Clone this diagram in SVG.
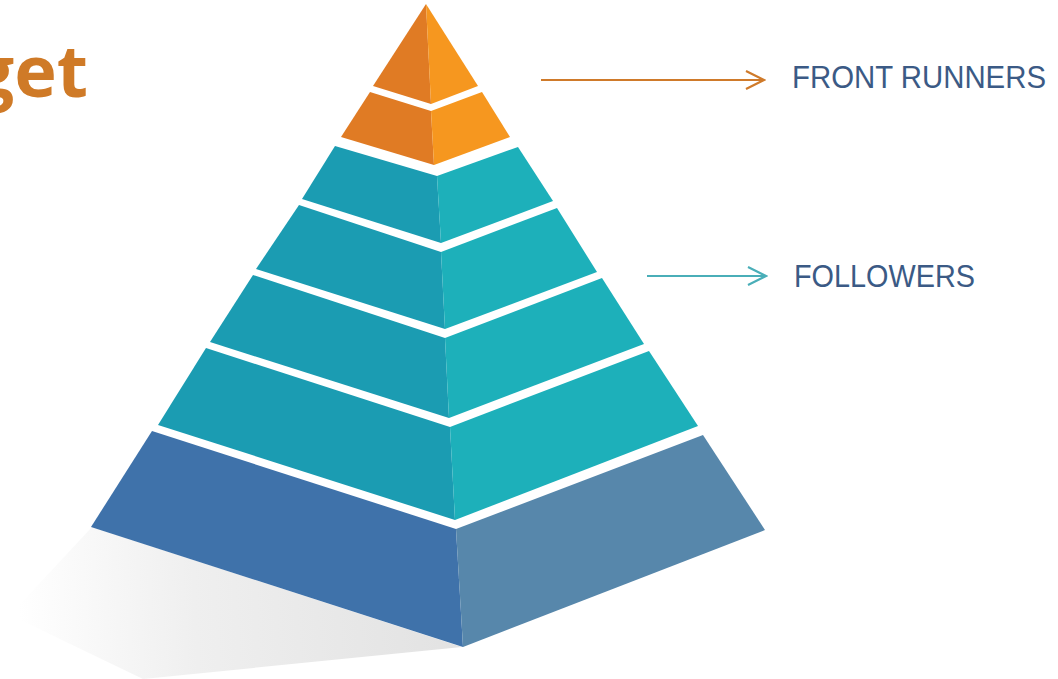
<svg xmlns="http://www.w3.org/2000/svg" width="1058" height="679" viewBox="0 0 1058 679">
  <defs>
    <linearGradient id="shadowGrad" x1="460" y1="620" x2="20" y2="640" gradientUnits="userSpaceOnUse">
      <stop offset="0" stop-color="#e2e2e2"/>
      <stop offset="0.6" stop-color="#efefef"/>
      <stop offset="1" stop-color="#ffffff"/>
    </linearGradient>
    <marker id="chevOrange" markerWidth="22" markerHeight="22" viewBox="-20 -11 22 22" refX="0" refY="0" orient="auto" markerUnits="userSpaceOnUse">
      <path d="M-18,-9 L0,0 L-18,9" fill="none" stroke="#CF7A2A" stroke-width="2.2"/>
    </marker>
    <marker id="chevTeal" markerWidth="22" markerHeight="22" viewBox="-20 -11 22 22" refX="0" refY="0" orient="auto" markerUnits="userSpaceOnUse">
      <path d="M-18,-9 L0,0 L-18,9" fill="none" stroke="#4AAEB8" stroke-width="2.2"/>
    </marker>
  </defs>
  <style>
    .orL { fill: #E07B24; }
    .orR { fill: #F6971F; }
    .tlL { fill: #1B9CB2; }
    .tlR { fill: #1DB0BA; }
    .blL { fill: #3F72AA; }
    .blR { fill: #5787AB; }
    .label { font-family: "Liberation Sans", Arial, sans-serif; fill: #3B5A85; }
    .title { font-family: "Open Sans", "Liberation Sans", sans-serif; font-weight: bold; fill: #CF7A27; }
  </style>
  <rect width="1058" height="679" fill="#ffffff"/>

  <g id="title">
    <text class="title" x="88" y="97" font-size="72" text-anchor="end">get</text>
  </g>

  <g id="shadow">
    <polygon points="92,527 462,647 143,679 10,615" fill="url(#shadowGrad)"/>
  </g>

  <g id="layer1">
    <polygon class="orL" points="426,4 373,86 431,104"/>
    <polygon class="orR" points="426,4 431,104 478,86"/>
  </g>
  <g id="layer2">
    <polygon class="orL" points="370,92 341,137 434,165 431,111"/>
    <polygon class="orR" points="431,111 434,165 510,137 482,92"/>
  </g>
  <g id="layer3">
    <polygon class="tlL" points="335,146 302,199 441,243 437,176"/>
    <polygon class="tlR" points="437,176 441,243 553,201 518,147"/>
  </g>
  <g id="layer4">
    <polygon class="tlL" points="299,205 256,269 445,329 441,252"/>
    <polygon class="tlR" points="441,252 445,329 597,272 557,208"/>
  </g>
  <g id="layer5">
    <polygon class="tlL" points="253,275 210,342 449,418 445,338"/>
    <polygon class="tlR" points="445,338 449,418 644,344 602,278"/>
  </g>
  <g id="layer6">
    <polygon class="tlL" points="206,348 158,425 455,520 450,427"/>
    <polygon class="tlR" points="450,427 455,520 698,426 649,351"/>
  </g>
  <g id="layer7">
    <polygon class="blL" points="152,431 91,527 463,647 456,529"/>
    <polygon class="blR" points="456,529 463,647 765,530 703,435"/>
  </g>

  <g id="connectors">
    <line x1="541" y1="80" x2="764" y2="80" stroke="#CF7A2A" stroke-width="2.2" marker-end="url(#chevOrange)"/>
    <line x1="647" y1="276" x2="766" y2="276" stroke="#4AAEB8" stroke-width="2.2" marker-end="url(#chevTeal)"/>
  </g>

  <g id="label-front-runners">
    <text class="label" x="792" y="88" font-size="31" textLength="254" lengthAdjust="spacingAndGlyphs">FRONT RUNNERS</text>
  </g>
  <g id="label-followers">
    <text class="label" x="794" y="287" font-size="31" textLength="181" lengthAdjust="spacingAndGlyphs">FOLLOWERS</text>
  </g>
</svg>
